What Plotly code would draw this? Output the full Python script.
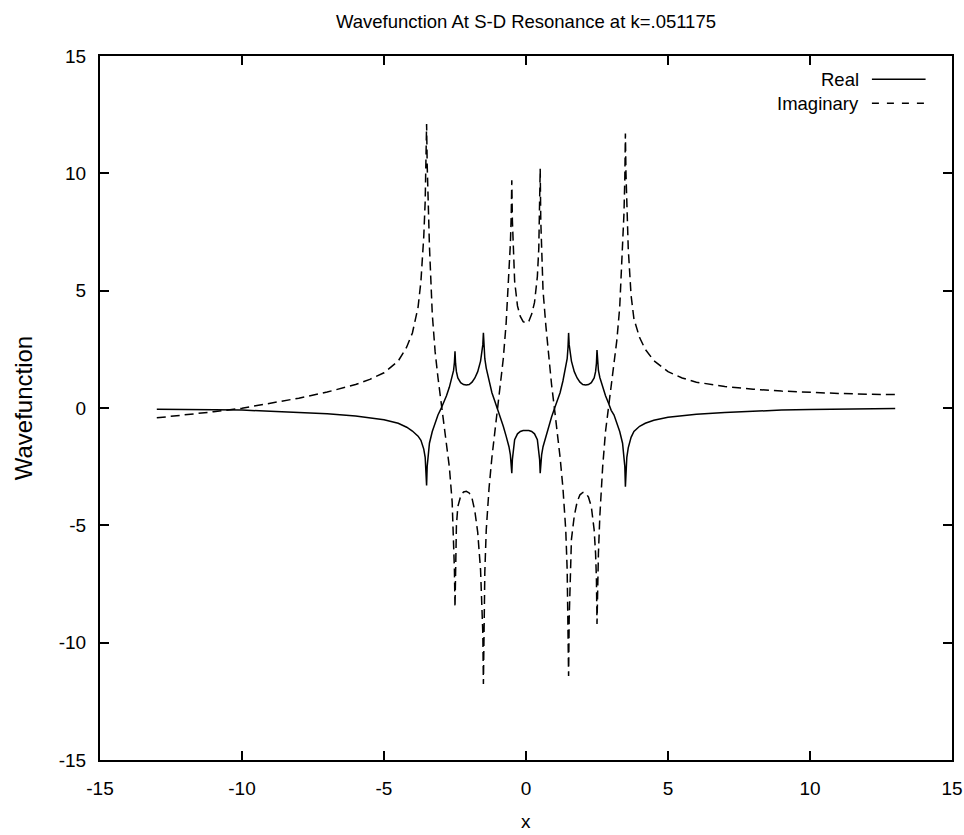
import plotly.graph_objects as go

# Sample positions along x (dense around the delta-shell cusps at +-0.5, +-1.5, +-2.5, +-3.5)
x_pos = [
    -13, -12, -11, -10, -9, -8, -7, -6, -5.5, -5, -4.5, -4.2, -4.0,
    -3.8, -3.7, -3.6, -3.55, -3.52, -3.5,
    -3.48, -3.45, -3.4,
    -3.3, -3.2, -3.1, -3.0, -2.9, -2.8, -2.7, -2.6,
    -2.55, -2.52, -2.5,
    -2.48, -2.45, -2.4,
    -2.3, -2.2, -2.1, -2.0, -1.9, -1.8, -1.7, -1.6,
    -1.55, -1.52, -1.5,
    -1.48, -1.45, -1.4,
    -1.3, -1.2, -1.1, -1.0, -0.9, -0.8, -0.7, -0.6,
    -0.55, -0.52, -0.5,
    -0.48, -0.45, -0.4,
    -0.3, -0.2, -0.1, 0.0,
    0.1, 0.2, 0.3, 0.4,
    0.45, 0.48, 0.5,
    0.52, 0.55, 0.6,
    0.7, 0.8, 0.9, 1.0, 1.1, 1.2, 1.3, 1.4,
    1.45, 1.48, 1.5,
    1.52, 1.55, 1.6,
    1.7, 1.8, 1.9, 2.0, 2.1, 2.2, 2.3, 2.4,
    2.45, 2.48, 2.5,
    2.52, 2.55, 2.6,
    2.7, 2.8, 2.9, 3.0, 3.1, 3.2, 3.3, 3.4,
    3.45, 3.48, 3.5,
    3.52, 3.55, 3.6, 3.7, 3.8,
    4.0, 4.2, 4.5, 5.0, 5.5, 6, 7, 8, 9, 10, 11, 12, 13,
]

# Real part of the wavefunction
real_part = [
    -0.05, -0.06, -0.07, -0.09, -0.14, -0.18, -0.25, -0.34, -0.41, -0.50, -0.65, -0.82, -0.98,
    -1.20, -1.38, -1.75, -2.10, -2.60, -3.30,
    -2.50, -2.00, -1.50,
    -1.00, -0.62, -0.30, -0.05, 0.22, 0.52, 0.88, 1.30,
    1.60, 1.95, 2.42,
    1.90, 1.55, 1.28,
    1.08, 1.00, 0.98, 1.00, 1.10, 1.28, 1.55, 2.00,
    2.35, 2.70, 3.21,
    2.60, 2.10, 1.70,
    1.15, 0.65, 0.30, -0.03, -0.38, -0.78, -1.20, -1.65,
    -2.00, -2.35, -2.78,
    -2.20, -1.75, -1.35,
    -1.10, -1.00, -0.96, -0.95,
    -0.96, -1.00, -1.10, -1.35,
    -1.75, -2.20, -2.78,
    -2.35, -2.00, -1.65,
    -1.20, -0.78, -0.38, -0.03, 0.30, 0.65, 1.15, 1.70,
    2.10, 2.60, 3.20,
    2.70, 2.35, 2.00,
    1.55, 1.28, 1.10, 1.00, 0.98, 1.00, 1.08, 1.28,
    1.55, 1.90, 2.47,
    1.95, 1.60, 1.30,
    0.88, 0.52, 0.22, -0.10, -0.30, -0.62, -1.00, -1.50,
    -2.00, -2.50, -3.35,
    -2.60, -2.10, -1.70, -1.25, -1.00,
    -0.78, -0.65, -0.52, -0.39, -0.32, -0.27, -0.19, -0.13, -0.09, -0.06, -0.04, -0.03, -0.02,
]

# Imaginary part of the wavefunction
imag_part = [
    -0.42, -0.30, -0.16, -0.01, 0.19, 0.42, 0.68, 1.00, 1.22, 1.50, 2.00, 2.60, 3.20,
    4.30, 5.40, 7.30, 8.80, 10.30, 12.10,
    10.40, 9.00, 6.90,
    4.00, 2.40, 1.30, 0.40, -0.50, -1.40, -2.50, -4.00,
    -5.40, -6.90, -8.49,
    -6.50, -5.00, -4.20,
    -3.75, -3.58, -3.55, -3.62, -3.85, -4.40, -5.30, -6.90,
    -8.20, -9.60, -11.76,
    -9.00, -7.00, -5.20,
    -3.40, -2.10, -1.00, 0.00, 1.00, 2.10, 3.60, 5.60,
    7.00, 8.20, 9.70,
    8.00, 6.60, 5.40,
    4.35, 3.90, 3.68, 3.61,
    3.70, 4.00, 4.50, 5.60,
    6.80, 8.30, 10.20,
    8.00, 6.60, 5.00,
    3.50, 2.20, 1.00, 0.00, -1.00, -2.10, -3.40, -5.20,
    -6.90, -8.80, -11.42,
    -9.00, -7.20, -5.60,
    -4.60, -4.00, -3.70, -3.60, -3.62, -3.80, -4.20, -5.20,
    -6.20, -7.30, -9.20,
    -7.50, -6.20, -4.60,
    -2.50, -1.00, 0.00, 0.90, 1.80, 2.90, 4.30, 6.60,
    8.30, 9.80, 11.70,
    10.00, 8.60, 6.80, 4.80, 3.80,
    3.00, 2.50, 2.02, 1.55, 1.28, 1.10, 0.92, 0.80, 0.72, 0.66, 0.62, 0.59, 0.57,
]

series_names = ["Real", "Imaginary"]
axis_ticks = [-15, -10, -5, 0, 5, 10, 15]

FONT = "Liberation Sans, Arial, Helvetica, sans-serif"
CURVE_DASH = "9px,5px"
KEY_DASH = "7px,8px"

fig = go.Figure()
fig.add_trace(go.Scatter(x=x_pos, y=real_part, mode="lines", name=series_names[0],
                         line=dict(color="black", width=1.5), showlegend=False))
fig.add_trace(go.Scatter(x=x_pos, y=imag_part, mode="lines", name=series_names[1],
                         line=dict(color="black", width=1.5, dash=CURVE_DASH), showlegend=False))

axis_common = dict(
    range=[-15, 15], tickmode="array", tickvals=axis_ticks,
    ticktext=[str(t) for t in axis_ticks],
    ticks="inside", ticklen=9, tickwidth=1.5, tickcolor="black",
    showline=True, linewidth=2, linecolor="black", mirror="ticks",
    showgrid=False, zeroline=False, automargin=False,
    ticklabeloverflow="allow",
    tickfont=dict(family=FONT, size=19, color="black"),
)

fig.update_layout(
    width=964, height=835,
    margin=dict(l=100, r=12, t=56, b=75, autoexpand=False),
    paper_bgcolor="white", plot_bgcolor="white",
    font=dict(family=FONT, size=18, color="black"),
    title=dict(text="Wavefunction At S-D Resonance at k=.051175",
               x=0.5, xref="paper", xanchor="center",
               y=1 - 22 / 835, yref="container", yanchor="middle",
               font=dict(family=FONT, size=18.5, color="black")),
    xaxis=dict(**axis_common, ticklabelstandoff=10),
    yaxis=dict(**axis_common, ticklabelstandoff=8),
    showlegend=False,
)

# Axis titles
fig.add_annotation(text="x", xref="paper", yref="paper", x=0.5, y=-0.088,
                   xanchor="center", yanchor="middle", showarrow=False,
                   font=dict(family=FONT, size=19, color="black"))
fig.add_annotation(text="Wavefunction", xref="paper", yref="paper", x=-0.09, y=0.5,
                   xanchor="center", yanchor="middle", textangle=-90, showarrow=False,
                   font=dict(family=FONT, size=24, color="black"))

# Key in the upper right: label followed by a line sample
key_rows = [(series_names[0], 0.967, "solid"), (series_names[1], 0.933, KEY_DASH)]
for label, ky, dash in key_rows:
    fig.add_annotation(text=label, xref="paper", yref="paper", x=0.893, y=ky,
                       xanchor="right", yanchor="middle", showarrow=False,
                       font=dict(family=FONT, size=18.5, color="black"))
    fig.add_shape(type="line", xref="paper", yref="paper",
                  x0=0.906, x1=0.969, y0=ky, y1=ky,
                  line=dict(color="black", width=1.5, dash=dash))

fig.write_html("out.html")
